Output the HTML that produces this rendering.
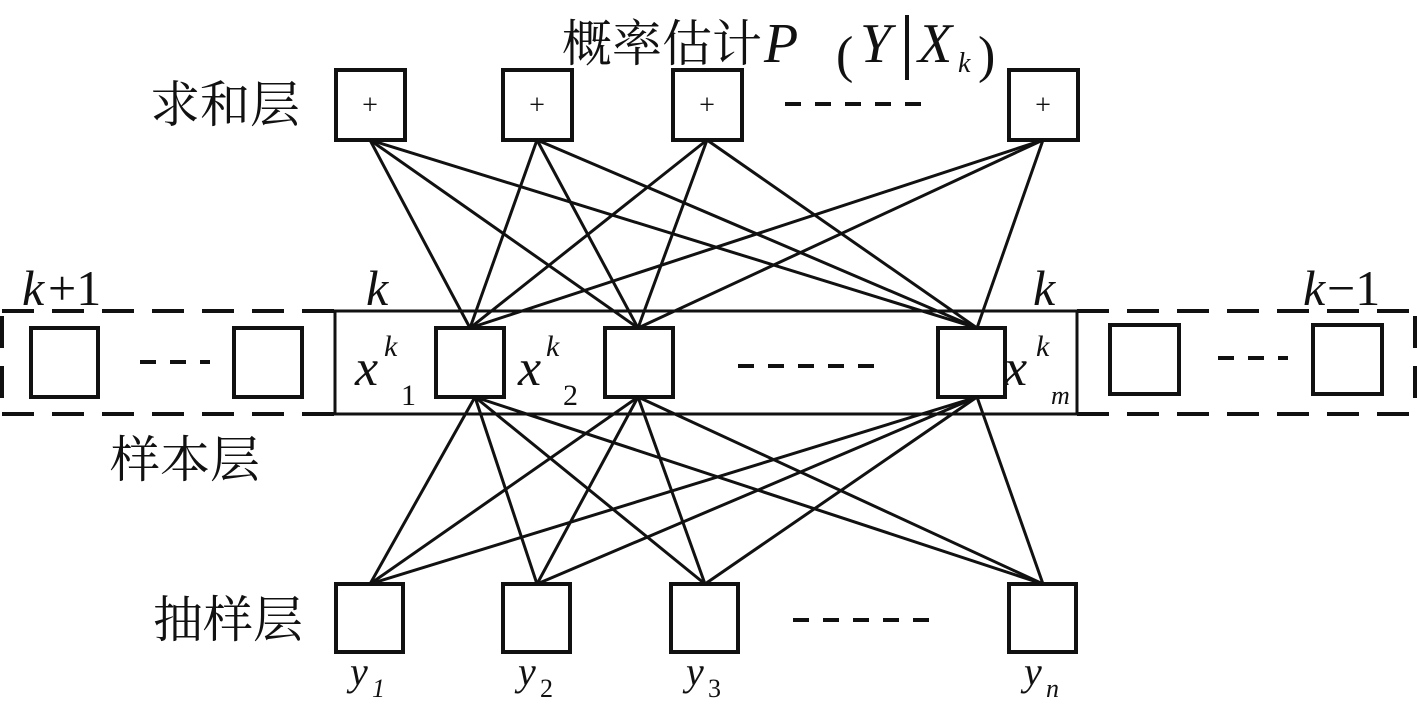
<!DOCTYPE html>
<html><head><meta charset="utf-8"><style>
body{margin:0;background:#fff}
svg{display:block}
.cj{font-family:"Liberation Serif","Noto Serif CJK SC",serif;font-size:50px;fill:#111}
.it{font-family:"Liberation Serif",serif;font-style:italic;fill:#111}
.rm{font-family:"Liberation Serif",serif;fill:#111}
</style></head><body>
<svg width="1417" height="722" viewBox="0 0 1417 722" xmlns="http://www.w3.org/2000/svg">
<g fill="none" stroke="#111" stroke-width="4">
<!-- top boxes -->
<rect x="336" y="70" width="69" height="70"/>
<rect x="503" y="70" width="69" height="70"/>
<rect x="673" y="70" width="69" height="70"/>
<rect x="1009" y="70" width="69" height="70"/>
<line x1="785" y1="104" x2="935" y2="104" stroke-dasharray="16,14"/>
<!-- dashed outer -->
<path d="M2 311 H335 M1077 311 H1415 M2 414 H335 M1077 414 H1415" stroke-dasharray="32,18"/>
<path d="M2 316 V409 M1415 316 V409" stroke-dasharray="32,18"/>
<rect x="335" y="311" width="742" height="103" stroke-width="3"/>
<!-- middle boxes -->
<rect x="31" y="328" width="67" height="69"/>
<rect x="234" y="328" width="68" height="69"/>
<rect x="436" y="328" width="68" height="69"/>
<rect x="605" y="328" width="68" height="69"/>
<rect x="938" y="328" width="67" height="69"/>
<rect x="1110" y="325" width="69" height="69"/>
<rect x="1313" y="325" width="69" height="69"/>
<line x1="140" y1="362" x2="210" y2="362" stroke-dasharray="16,14"/>
<line x1="1218" y1="358" x2="1288" y2="358" stroke-dasharray="16,14"/>
<line x1="738" y1="366" x2="888" y2="366" stroke-dasharray="16,14"/>
<!-- bottom boxes -->
<rect x="336" y="584" width="67" height="68"/>
<rect x="503" y="584" width="67" height="68"/>
<rect x="671" y="584" width="67" height="68"/>
<rect x="1009" y="584" width="67" height="68"/>
<line x1="793" y1="620" x2="943" y2="620" stroke-dasharray="16,14"/>
</g>
<g stroke="#111" stroke-width="3">
<!-- top to middle -->
<line x1="370" y1="140" x2="470" y2="328"/><line x1="370" y1="140" x2="638" y2="328"/><line x1="370" y1="140" x2="977" y2="328"/>
<line x1="537" y1="140" x2="470" y2="328"/><line x1="537" y1="140" x2="638" y2="328"/><line x1="537" y1="140" x2="977" y2="328"/>
<line x1="707" y1="140" x2="470" y2="328"/><line x1="707" y1="140" x2="638" y2="328"/><line x1="707" y1="140" x2="977" y2="328"/>
<line x1="1043" y1="140" x2="470" y2="328"/><line x1="1043" y1="140" x2="638" y2="328"/><line x1="1043" y1="140" x2="977" y2="328"/>
<!-- middle to bottom -->
<line x1="475" y1="397" x2="370" y2="584"/><line x1="475" y1="397" x2="537" y2="584"/><line x1="475" y1="397" x2="705" y2="584"/><line x1="475" y1="397" x2="1043" y2="584"/>
<line x1="638" y1="397" x2="370" y2="584"/><line x1="638" y1="397" x2="537" y2="584"/><line x1="638" y1="397" x2="705" y2="584"/><line x1="638" y1="397" x2="1043" y2="584"/>
<line x1="977" y1="397" x2="370" y2="584"/><line x1="977" y1="397" x2="537" y2="584"/><line x1="977" y1="397" x2="705" y2="584"/><line x1="977" y1="397" x2="1043" y2="584"/>
</g>
<!-- plus signs -->
<g class="rm" font-size="28" text-anchor="middle">
<text x="370" y="114">+</text><text x="537" y="114">+</text><text x="707" y="114">+</text><text x="1043" y="114">+</text>
</g>
<text class="cj" x="562" y="61">概率估计</text>
<text class="it" x="764" y="62" font-size="56">P</text>
<text class="rm" x="836" y="72" font-size="52">(</text>
<text class="it" x="860" y="62" font-size="56">Y</text>
<line x1="907" y1="15" x2="907" y2="80" stroke="#111" stroke-width="4"/>
<text class="it" x="918" y="62" font-size="56">X</text>
<text class="it" x="958" y="72" font-size="28">k</text>
<text class="rm" x="978" y="72" font-size="52">)</text>
<text class="cj" x="150" y="122" font-size="55">求和层</text>
<text class="cj" x="110" y="477" font-size="55">样本层</text>
<text class="cj" x="153" y="637" font-size="55">抽样层</text>
<!-- k labels -->
<text class="it" x="22" y="305" font-size="50">k</text>
<text class="rm" x="48" y="305" font-size="50">+1</text>
<text class="it" x="366" y="305" font-size="50">k</text>
<text class="it" x="1033" y="305" font-size="50">k</text>
<text class="it" x="1303" y="305" font-size="50">k</text>
<text class="rm" x="1327" y="305" font-size="50">−1</text>
<!-- x labels -->
<text class="it" x="355" y="385" font-size="52">x</text><text class="it" x="384" y="356" font-size="30">k</text><text class="rm" x="401" y="405" font-size="30">1</text>
<text class="it" x="518" y="385" font-size="52">x</text><text class="it" x="546" y="356" font-size="30">k</text><text class="rm" x="563" y="405" font-size="30">2</text>
<text class="it" x="1004" y="385" font-size="52">x</text><text class="it" x="1036" y="356" font-size="30">k</text><text class="it" x="1051" y="404" font-size="26">m</text>
<!-- y labels -->
<text class="it" x="350" y="685" font-size="40">y</text><text class="it" x="372" y="697" font-size="26">1</text>
<text class="it" x="518" y="685" font-size="40">y</text><text class="rm" x="540" y="697" font-size="26">2</text>
<text class="it" x="686" y="685" font-size="40">y</text><text class="rm" x="708" y="697" font-size="26">3</text>
<text class="it" x="1024" y="685" font-size="40">y</text><text class="it" x="1046" y="697" font-size="26">n</text>
</svg>
</body></html>
